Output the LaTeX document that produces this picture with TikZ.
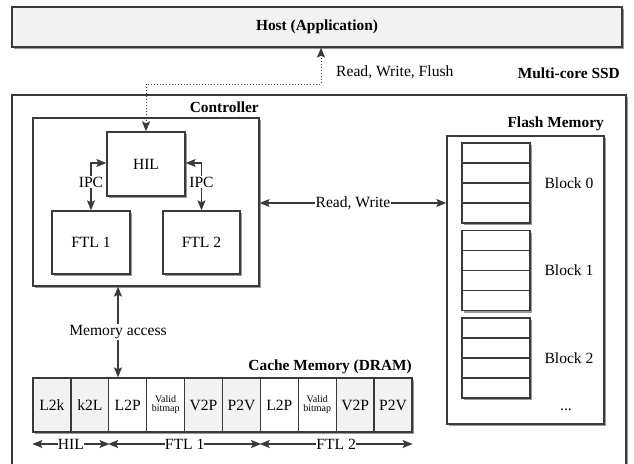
\documentclass[tikz,border=0pt]{standalone}
\usepackage{fontspec}
\setmainfont{Liberation Serif}
\usetikzlibrary{arrows.meta,shadows,calc}
\definecolor{ln}{HTML}{3A3A3A}
\definecolor{gfill}{HTML}{F2F2F2}
\begin{document}
\begin{tikzpicture}[x=1pt,y=-1pt,
  font=\fontsize{15.6}{17}\selectfont,
  box/.style={draw=ln, line width=1.3pt, fill=white, inner sep=0pt,
    drop shadow={shadow xshift=2pt, shadow yshift=-2pt, fill=black!40, opacity=1}},
  gbox/.style={box, fill=gfill},
  tipx/.tip={Stealth[length=10pt,width=8pt,inset=2pt]},
  arr/.style={draw=ln, line width=1.3pt, {tipx}-{tipx}},
  lbl/.style={fill=white, inner sep=1pt, text=black},
  ttl/.style={font=\fontsize{15.4}{17}\selectfont\bfseries, inner sep=0pt}]
\useasboundingbox (0,0) rectangle (634,463);
\begin{scope}
\clip (0,0) rectangle (634,463);
% outer SSD
\node[box, minimum width=614pt, minimum height=385pt] (ssd) at (319,287.5) {};
\end{scope}
\node[ttl, anchor=east] (ssdl) at (620,73) {Multi-core SSD};
% host
\node[gbox, minimum width=610pt, minimum height=40pt, font=\fontsize{15.4}{17}\selectfont\bfseries] (host) at (317,27) {Host (Application)};
% controller
\node[box, minimum width=226pt, minimum height=168pt] (ctrl) at (146,202) {};
\node[ttl, anchor=east] (ctrll) at (259,107) {Controller};
\node[box, minimum width=78pt, minimum height=64pt] (hil) at (146,164) {HIL};
\node[box, minimum width=78pt, minimum height=63pt] (ftl1) at (91,242.5) {FTL 1};
\node[box, minimum width=77pt, minimum height=63pt] (ftl2) at (201.5,242.5) {FTL 2};
% host link
\coordinate (hj) at (321,84);
\draw[draw=ln, line width=1pt, dotted, {tipx}-{tipx}]
  (hil.north) |- (hj) -- (hj |- host.south);
\node[anchor=west, inner sep=0pt] (rwf) at (336,72) {Read, Write, Flush};
% IPC
\draw[arr] ($(hil.west)+(0,-1)$) -| (ftl1.north) node[lbl, pos=0.7] {IPC};
\draw[arr] ($(hil.east)+(0,-1)$) -| (ftl2.north) node[lbl, pos=0.7] {IPC};
% flash
\node[box, minimum width=157pt, minimum height=288pt] (flash) at (525.5,280) {};
\node[ttl, anchor=east] (flashl) at (604,124) {Flash Memory};
\foreach \i/\yc in {0/183,1/270.5,2/358}{
  \node[box, minimum width=68pt, minimum height=80pt] (b\i) at (496,\yc) {};
  \foreach \k in {-20,0,20}
    \draw[ln, line width=1.3pt] ($(b\i.west)+(0,\k)$) -- ($(b\i.east)+(0,\k)$);
  \node (bl\i) at (569,\yc) {Block \i};
}
\node (dots) at (566,410) {...};
% read write
\coordinate (rw) at (0,203);
\draw[arr] (ctrl.east |- rw) -- (flash.west |- rw) node[lbl, midway] {Read, Write};
% cache
\node[ttl, anchor=east] (cachel) at (412,367) {Cache Memory (DRAM)};
\foreach \i/\t/\f in {0/L2k/gfill,1/k2L/gfill,2/L2P/white,3/{\fontsize{10}{10}\selectfont\begin{tabular}{@{}c@{}}Valid\\[-1pt]bitmap\end{tabular}}/white,4/V2P/gfill,5/P2V/gfill,6/L2P/white,7/{\fontsize{10}{10}\selectfont\begin{tabular}{@{}c@{}}Valid\\[-1pt]bitmap\end{tabular}}/white,8/V2P/gfill,9/P2V/gfill}{
  \node[box, fill=\f, minimum width=37.9pt, minimum height=54pt] (c\i) at ({33+37.9*(\i+0.5)},405) {\t};
}
% memory access
\coordinate (ma) at (118,0);
\draw[arr] (ctrl.south -| ma) -- (c2.north -| ma) node[lbl, midway] {Memory access};
% bottom ranges
\coordinate (by) at (0,444);
\draw[arr] (c0.west |- by) -- (c1.east |- by) node[lbl, inner sep=0pt, midway] {HIL};
\draw[arr] (c2.west |- by) -- (c5.east |- by) node[lbl, inner sep=0pt, midway] {FTL 1};
\draw[arr] (c6.west |- by) -- (c9.east |- by) node[lbl, inner sep=0pt, midway] {FTL 2};
\end{tikzpicture}
\end{document}
